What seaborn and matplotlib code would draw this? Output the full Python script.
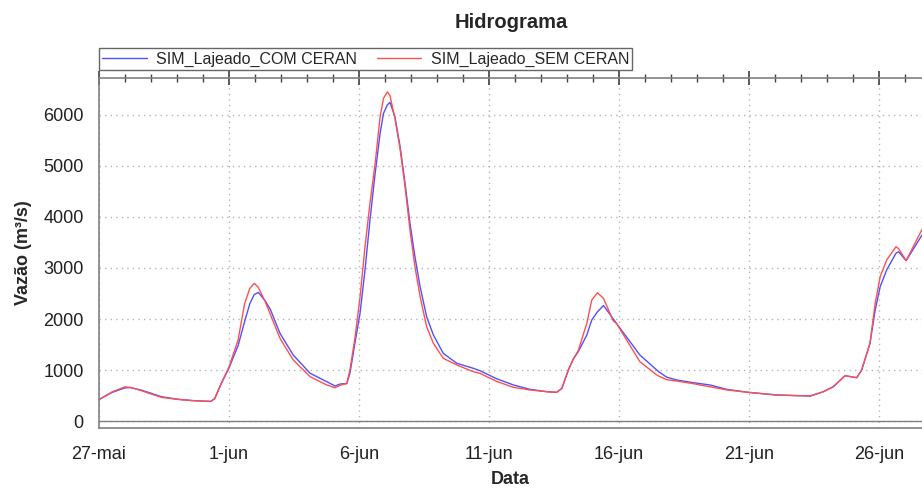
import numpy as np
import pandas as pd
import matplotlib
matplotlib.use("Agg")
import matplotlib.pyplot as plt
import matplotlib.dates as mdates
from matplotlib.ticker import MultipleLocator, FixedLocator, FixedFormatter
import seaborn as sns

# ---- data (days after 27-mai, discharge in m3/s) ----
days = [0.0, 0.5, 1.0, 1.2, 1.6, 2.0, 2.4, 3.0, 3.6, 4.0, 4.3, 4.45, 4.7, 5.0,
        5.35, 5.6, 5.8, 5.97, 6.13, 6.4, 6.6, 6.96, 7.47, 8.12, 8.76, 9.08, 9.27,
        9.53, 9.65, 9.85, 10.04, 10.23, 10.42, 10.62, 10.81, 10.94, 11.09, 11.19,
        11.38, 11.58, 11.77, 11.96, 12.15, 12.35, 12.6, 12.86, 13.24, 13.76, 14.4,
        14.65, 15.3, 15.94, 16.58, 17.22, 17.6, 17.8, 18.05, 18.24, 18.43, 18.76,
        18.95, 19.17, 19.4, 19.78, 19.9, 20.8, 21.45, 21.58, 21.83, 22.22, 22.86,
        23.5, 24.14, 24.97, 26.06, 27.35, 27.86, 28.24, 28.69, 29.14, 29.33, 29.65,
        29.85, 30.04, 30.29, 30.65, 30.75, 31.04, 31.65]
com_ceran = [420, 560, 650, 655, 610, 545, 477, 428, 400, 390, 385, 440, 730, 1040,
             1480, 1950, 2300, 2480, 2522, 2350, 2176, 1719, 1294, 935, 771, 686, 725,
             735, 935, 1550, 2117, 2960, 3940, 4855, 5639, 6031, 6200, 6246,
             5966, 5376, 4659, 3875, 3220, 2632, 2044, 1686, 1327, 1131, 1033,
             986, 827, 706, 621, 575, 562, 640, 1000, 1215, 1359, 1686,
             1980, 2142, 2265, 2000, 1915, 1294, 1000, 947, 860, 804, 751,
             706, 621, 562, 510, 490, 575, 673, 889, 849, 1000, 1523,
             2176, 2632, 2960, 3290, 3319, 3143, 3646]
sem_ceran = [420, 570, 670, 660, 600, 530, 464, 425, 400, 390, 385, 440, 740, 1060,
             1590, 2300, 2600, 2699, 2620, 2330, 2078, 1621, 1196, 868, 706, 653, 700,
             735, 1000, 1650, 2437, 3417, 4268, 5051, 5966, 6325, 6454, 6380,
             5933, 5330, 4595, 3744, 3024, 2437, 1849, 1523, 1229, 1098, 966,
             935, 775, 660, 608, 575, 562, 640, 1000, 1215, 1380, 1915,
             2372, 2515, 2405, 1960, 1915, 1163, 902, 868, 810, 784, 732,
             670, 610, 562, 510, 490, 575, 673, 889, 849, 1000, 1523,
             2306, 2828, 3156, 3417, 3380, 3143, 3757]
series_names = ["SIM_Lajeado_COM CERAN", "SIM_Lajeado_SEM CERAN"]
tick_dates = ["2020-05-27", "2020-06-01", "2020-06-06", "2020-06-11",
              "2020-06-16", "2020-06-21", "2020-06-26"]
tick_labels = ["27-mai", "1-jun", "6-jun", "11-jun", "16-jun", "21-jun", "26-jun"]

start = pd.Timestamp("2020-05-27")
t = start + pd.to_timedelta(days, unit="D")
df = pd.concat([
    pd.DataFrame({"Data": t, "Vazao": com_ceran, "serie": series_names[0]}),
    pd.DataFrame({"Data": t, "Vazao": sem_ceran, "serie": series_names[1]}),
])

sns.set_style("white")
plt.rcParams["font.family"] = ["Liberation Sans", "DejaVu Sans"]

fig = plt.figure(figsize=(9.22, 4.88), dpi=100)
ax = fig.add_axes([99/922, 1-428/488, 1-99/922, (428-78)/488])

sns.lineplot(data=df, x="Data", y="Vazao", hue="serie", palette=["#5050ff", "#ff5050"],
             linewidth=1.0, ax=ax, legend=True)

ax.set_xlim(start, start + pd.Timedelta(days=31.65))
ax.set_ylim(-137, 6725)

ax.xaxis.set_major_locator(FixedLocator(mdates.date2num(pd.to_datetime(tick_dates))))
ax.xaxis.set_major_formatter(FixedFormatter(tick_labels))
ax.xaxis.set_minor_locator(mdates.DayLocator())
ax.yaxis.set_major_locator(MultipleLocator(1000))
ax.yaxis.set_minor_locator(MultipleLocator(200))

ax.grid(True, which="major", color="#b4b4b4", linestyle=(0, (1, 3)), linewidth=1.0)
ax.axhline(0, color="#808080", linewidth=1.0, zorder=1)

for s in ["left", "bottom", "top"]:
    ax.spines[s].set_color("#808080")
    ax.spines[s].set_linewidth(1.2)
ax.spines["right"].set_visible(False)

ax.tick_params(axis="both", which="both", direction="inout", colors="#404040",
               labelcolor="#202020", labelsize=13)
ax.tick_params(axis="x", which="major", length=10, width=1.2, top=True, pad=8)
ax.tick_params(axis="x", which="minor", length=6, width=1.0, top=True)
ax.tick_params(axis="y", which="major", length=10, width=1.0, pad=6)
ax.tick_params(axis="y", which="minor", length=6, width=1.0)

ax.set_xlabel("Data", fontsize=13, fontweight="bold", labelpad=6)
ax.set_ylabel("Vazão (m³/s)", fontsize=13, fontweight="bold", labelpad=8)

fig.text(511/922, 1-22/488, "Hidrograma", ha="center", va="center",
         fontsize=14.5, fontweight="bold")

leg = ax.legend(loc="lower left", bbox_to_anchor=(0.0, 1.0 + (78-70)/350), ncol=2,
                frameon=True, fancybox=False, fontsize=11.5, handlelength=2.8,
                borderpad=0.2, columnspacing=1.2, handletextpad=0.6, title=None,
                borderaxespad=0)
leg.get_frame().set_edgecolor("#404040")
leg.get_frame().set_linewidth(1.0)

fig.savefig("out.png", dpi=100)
